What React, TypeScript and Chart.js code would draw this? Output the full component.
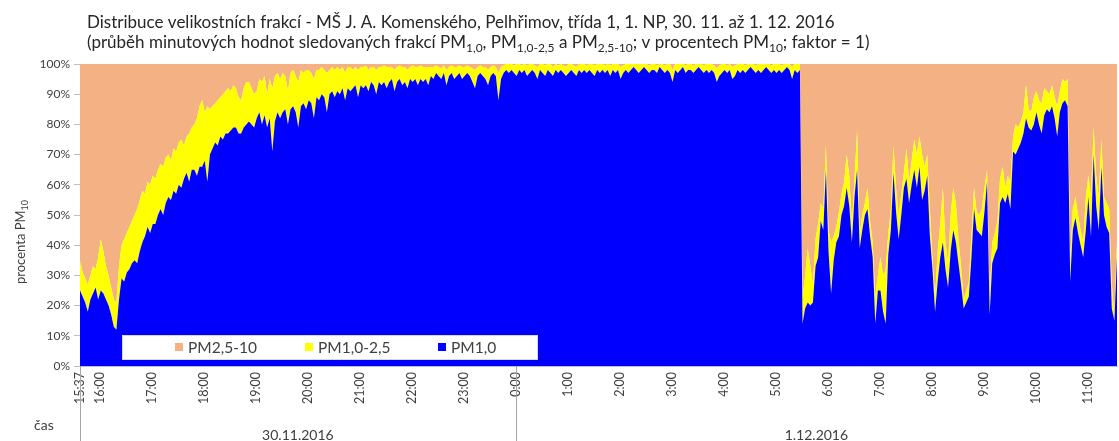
import { useEffect, useRef } from "react";
import { Chart, registerables } from "chart.js";

Chart.register(...registerables);

// Minute samples (every 3 minutes) starting at 15:37 on 30.11.2016
const startLabel = "15:37";
const stepMinutes = 3;

// Tick labels on the time axis
const timeLabels = [
  "15:37", "16:00", "17:00", "18:00", "19:00", "20:00", "21:00", "22:00", "23:00",
  "0:00", "1:00", "2:00", "3:00", "4:00", "5:00", "6:00", "7:00", "8:00", "9:00", "10:00", "11:00",
];
const dayLabels = ["30.11.2016", "1.12.2016"];
const yTicks = [0, 10, 20, 30, 40, 50, 60, 70, 80, 90, 100];

// PM1,0 as a percentage of PM10
const pm1Share = [
  25, 23, 21, 18, 22, 24, 26, 22, 25, 24, 22, 20, 17, 13, 12, 22, 29, 28, 31, 32,
  34, 35, 34, 38, 41, 43, 46, 44, 47, 47, 50, 52, 50, 54, 56, 55, 58, 57, 60, 59,
  62, 64, 61, 65, 65, 63, 66, 66, 68, 61, 70, 72, 74, 73, 76, 75, 77, 77, 78, 79,
  79, 77, 77, 79, 80, 81, 80,
  79, 82, 84, 80, 83, 79, 82, 71, 81, 84, 82, 84, 85, 80, 85, 86, 84, 79, 86, 87,
  85, 88, 87, 82, 89, 88, 90, 89, 84, 90, 91, 89, 91, 90, 92, 88, 92, 91, 92, 93,
  89, 93, 92, 93, 91, 94, 93, 90, 94, 93, 94, 92, 94, 95, 91, 94, 95, 93, 94, 92,
  95, 94, 95, 93, 95, 94, 95, 93,
  96, 95, 97, 96, 95, 97, 93, 96, 97, 95, 96, 97, 95, 96, 97, 96, 94, 92, 96, 97,
  96, 95, 93, 96, 97, 96, 88, 95, 97, 98, 97, 98, 97, 96, 98, 97, 98, 96, 97, 98,
  97, 95, 98, 97, 96, 98, 97, 96, 98, 97, 98, 97, 96, 97, 98, 97, 96, 98, 97, 98,
  97, 98, 97, 96, 98, 97, 98, 97, 98, 96, 98, 97, 98, 95, 97, 98, 97, 98, 99, 98,
  97, 98, 99, 98, 97, 98, 98, 97, 99, 98, 97, 98, 97, 94, 98, 97, 98, 99, 97, 98,
  98, 97, 98, 99, 98, 97, 98, 97, 98, 97, 94, 96, 97, 98, 97, 98, 95, 96, 98, 97,
  98, 97, 98, 99, 98, 97, 98, 97, 98, 99, 98, 97, 98, 97, 98, 97, 98, 99, 98, 95,
  98, 97, 98,
  14, 19, 21, 20, 21, 33, 36, 48, 45, 65, 38, 24, 35, 41, 43, 50, 53, 59, 53, 41,
  56, 65, 39, 45, 50, 52, 43, 36, 14, 25, 25, 18, 14, 37, 45, 64, 51, 42, 50, 59,
  62, 54, 60, 65, 59, 66, 55, 58, 63, 43, 32, 18, 28, 36, 41, 32, 26, 38, 45, 41,
  34, 27, 19, 21, 23, 36, 52, 45, 44, 43, 51, 61, 17, 34, 37, 39, 54, 56, 54, 57,
  52, 71, 70, 72, 74, 77, 82, 79, 78, 80, 84, 80, 77, 83, 85, 84, 86, 82, 76, 84,
  87, 88, 86, 28, 45, 49, 44, 40, 36, 45, 56, 43, 70, 53, 45, 66, 50, 46, 44, 19,
  15, 36,
];

// PM2,5 (PM1,0 + PM1,0-2,5) as a percentage of PM10
const pm25Share = [
  35, 31, 29, 27, 30, 33, 32, 36, 42, 38, 33, 30, 26, 22, 21, 33, 40, 42, 44, 46,
  48, 50, 52, 55, 58, 57, 61, 60, 63, 62, 65, 67, 66, 69, 70, 68, 72, 71, 74, 75,
  73, 76, 77, 79, 80, 82, 86, 88, 84, 86, 85, 86, 87, 88, 89, 90, 91, 92, 91, 93,
  92, 89, 88, 92, 94, 94, 92,
  90, 91, 95, 94, 96, 90, 95, 92, 96, 97, 95, 97, 96, 91, 97, 98, 96, 94, 98, 97,
  98, 98, 97, 95, 98, 98, 99, 98, 97, 98, 99, 98, 99, 98, 99, 97, 99, 99, 98, 99,
  98, 99, 99, 99.5, 98, 99, 99, 98, 99, 99, 99.5, 99, 99, 99, 98, 99, 99.5, 99, 99, 98,
  99, 99.5, 99, 99, 99.5, 99, 99, 99,
  99, 99, 99.5, 99, 98.5, 99.5, 98, 99, 99.5, 99, 99, 99.5, 99, 99, 99.5, 99, 98.5, 98, 99, 99.5,
  99, 99, 98, 99, 99.5, 99, 97, 99, 99.5, 100, 100, 100, 99.5, 100, 100, 99.5, 100, 99.5, 100, 100,
  99.5, 99, 100, 100, 99.5, 100, 100, 99, 100, 99.5, 100, 99.5, 99, 100, 100, 99.5, 99, 100, 100, 100,
  99.5, 100, 100, 99.5, 100, 100, 100, 99.5, 100, 99.5, 100, 100, 100, 99, 99.5, 100, 100, 100, 100, 100,
  100, 100, 100, 100, 99.5, 100, 100, 99.5, 100, 100, 99.5, 100, 100, 98, 100, 100, 100, 100, 99.5, 100,
  100, 99.5, 100, 100, 100, 99.5, 100, 100, 100, 99.5, 98.5, 99.5, 100, 100, 99.5, 100, 99, 99.5, 100, 100,
  100, 99.5, 100, 100, 100, 99.5, 100, 100, 100, 100, 100, 99.5, 100, 100, 100, 99.5, 100, 100, 100, 99,
  100, 100, 100,
  23, 30, 39, 33, 27, 42, 47, 54, 52, 73, 45, 41, 43, 46, 51, 57, 61, 70, 63, 47,
  62, 78, 44, 50, 54, 59, 48, 41, 23, 30, 36, 30, 32, 44, 52, 73, 59, 50, 57, 64,
  72, 61, 68, 75, 70, 76, 70, 66, 70, 52, 36, 23, 38, 47, 59, 41, 34, 50, 59, 54,
  42, 33, 22, 25, 28, 43, 59, 51, 50, 52, 59, 65, 23, 41, 44, 48, 62, 66, 59, 63,
  61, 76, 80, 79, 81, 84, 93, 85, 84, 89, 91, 88, 87, 92, 91, 90, 93, 89, 86, 91,
  95, 94, 95, 36, 52, 56, 50, 45, 41, 56, 63, 56, 79, 63, 56, 75, 56, 54, 52, 27,
  17, 41,
];

const BLUE = "#0000FF";
const YELLOW = "#FFFF00";
const ORANGE = "#F4B183";
const TEXT = "#404040";
const AXIS = "#BFBFBF";
const FONT = "Lato, 'Open Sans', sans-serif";

type Run = { text: string; sub?: boolean };

const titleLine1: Run[] = [
  { text: "Distribuce velikostních frakcí - MŠ J. A. Komenského, Pelhřimov, třída 1, 1. NP, 30. 11. až 1. 12. 2016" },
];
const titleLine2: Run[] = [
  { text: "(průběh minutových hodnot sledovaných frakcí PM" },
  { text: "1,0", sub: true },
  { text: ", PM" },
  { text: "1,0-2,5", sub: true },
  { text: " a PM" },
  { text: "2,5-10", sub: true },
  { text: "; v procentech PM" },
  { text: "10", sub: true },
  { text: "; faktor = 1)" },
];
const yTitle: Run[] = [{ text: "procenta PM" }, { text: "10", sub: true }];

const legendItems = [
  { label: "PM2,5-10", color: ORANGE },
  { label: "PM1,0-2,5", color: YELLOW },
  { label: "PM1,0", color: BLUE },
];

function toMinutes(label: string): number {
  const [h, m] = label.split(":").map(Number);
  const [h0, m0] = startLabel.split(":").map(Number);
  let d = h * 60 + m - (h0 * 60 + m0);
  if (d < 0) d += 1440;
  return d;
}

function runsWidth(ctx: CanvasRenderingContext2D, runs: Run[], size: number): number {
  let w = 0;
  for (const r of runs) {
    ctx.font = `${r.sub ? Math.round(size * 0.68) : size}px ${FONT}`;
    w += ctx.measureText(r.text).width;
  }
  return w;
}

function drawRuns(ctx: CanvasRenderingContext2D, runs: Run[], x: number, y: number, size: number) {
  let cx = x;
  ctx.textAlign = "left";
  ctx.textBaseline = "alphabetic";
  for (const r of runs) {
    const s = r.sub ? Math.round(size * 0.68) : size;
    ctx.font = `${s}px ${FONT}`;
    ctx.fillText(r.text, cx, r.sub ? y + size * 0.24 : y);
    cx += ctx.measureText(r.text).width;
  }
}

const decorations = {
  id: "decorations",
  afterDraw(chart: Chart) {
    const { ctx, chartArea, scales } = chart;
    const x = scales.x;
    ctx.save();
    ctx.fillStyle = "#262626";
    drawRuns(ctx, titleLine1, 87, 28, 17);
    drawRuns(ctx, titleLine2, 87, 48, 17);

    // vertical axis title
    ctx.fillStyle = TEXT;
    ctx.save();
    ctx.translate(25, 242);
    ctx.rotate(-Math.PI / 2);
    const yw = runsWidth(ctx, yTitle, 13);
    drawRuns(ctx, yTitle, -yw / 2, 0, 13);
    ctx.restore();

    // legend box inside the plot
    const lx = 122, ly = 335, lw = 416, lh = 25;
    ctx.fillStyle = "#FFFFFF";
    ctx.fillRect(lx, ly, lw, lh);
    ctx.strokeStyle = "#D9D9D9";
    ctx.lineWidth = 1;
    ctx.strokeRect(lx + 0.5, ly + 0.5, lw - 1, lh - 1);
    const itemX = [175, 305, 438];
    ctx.font = `15.5px ${FONT}`;
    ctx.textBaseline = "middle";
    ctx.textAlign = "left";
    legendItems.forEach((it, i) => {
      ctx.fillStyle = it.color;
      ctx.fillRect(itemX[i], ly + 8, 8, 8);
      ctx.fillStyle = TEXT;
      ctx.fillText(it.label, itemX[i] + 13, ly + 13);
    });

    // category group row under the time labels
    const bottom = chart.height;
    const midX = x.getPixelForValue(toMinutes("0:00"));
    ctx.strokeStyle = "#A6A6A6";
    ctx.lineWidth = 1;
    [chartArea.left, midX].forEach((px) => {
      const p = Math.round(px) + 0.5;
      ctx.beginPath();
      ctx.moveTo(p, chartArea.bottom);
      ctx.lineTo(p, bottom);
      ctx.stroke();
    });
    ctx.fillStyle = TEXT;
    ctx.font = `14px ${FONT}`;
    ctx.textAlign = "left";
    ctx.textBaseline = "alphabetic";
    ctx.fillText("čas", 34, 430);
    ctx.textAlign = "center";
    ctx.fillText(dayLabels[0], (chartArea.left + midX) / 2, 440);
    ctx.fillText(dayLabels[1], (midX + chartArea.right) / 2, 440);
    ctx.restore();
  },
};

export default function App() {
  const ref = useRef<HTMLCanvasElement>(null);

  useEffect(() => {
    document.body.style.margin = "0";
    const canvas = ref.current;
    if (!canvas) return;
    const pts = (arr: number[]) => arr.map((y, i) => ({ x: i * stepMinutes, y }));
    const fine = pm1Share;
    const middle = pm25Share.map((v, i) => v - pm1Share[i]);
    const coarse = pm25Share.map((v) => 100 - v);
    const tickValues = timeLabels.map(toMinutes);
    const labelAt = new Map(tickValues.map((v, i) => [v, timeLabels[i]]));
    const lastX = (pm1Share.length - 1) * stepMinutes;

    const common = { pointRadius: 0, borderWidth: 0, tension: 0 };
    const chart = new Chart(canvas, {
      type: "line",
      data: {
        datasets: [
          { label: "PM1,0", data: pts(fine), backgroundColor: BLUE, borderColor: BLUE, fill: "origin", ...common },
          { label: "PM1,0-2,5", data: pts(middle), backgroundColor: YELLOW, borderColor: YELLOW, fill: "-1", ...common },
          { label: "PM2,5-10", data: pts(coarse), backgroundColor: ORANGE, borderColor: ORANGE, fill: "-1", ...common },
        ],
      },
      options: {
        animation: false,
        responsive: true,
        maintainAspectRatio: false,
        layout: { padding: { top: 64, right: 2, left: 0, bottom: 0 } },
        plugins: { legend: { display: false }, title: { display: false }, tooltip: { enabled: false } },
        scales: {
          x: {
            type: "linear",
            min: 0,
            max: lastX,
            z: 1,
            grid: { display: false, drawTicks: false },
            border: { display: true, color: AXIS },
            afterBuildTicks: (scale: any) => {
              scale.ticks = tickValues.map((v) => ({ value: v }));
            },
            afterFit: (scale: any) => {
              scale.height = 75;
            },
            ticks: {
              autoSkip: false,
              maxRotation: 90,
              minRotation: 90,
              padding: 6,
              color: TEXT,
              font: { family: FONT, size: 12.5 },
              callback: (v: any) => labelAt.get(Number(v)) ?? "",
            },
          },
          y: {
            stacked: true,
            min: 0,
            max: 100,
            z: 1,
            afterBuildTicks: (scale: any) => {
              scale.ticks = yTicks.map((v) => ({ value: v }));
            },
            afterFit: (scale: any) => {
              scale.width = 80;
            },
            grid: { color: "rgba(120,120,120,0.13)", tickColor: AXIS, tickLength: 6 },
            border: { display: true, color: AXIS },
            ticks: {
              padding: 4,
              color: TEXT,
              font: { family: FONT, size: 12 },
              callback: (v: any) => `${v}%`,
            },
          },
        },
      },
      plugins: [decorations],
    });
    return () => chart.destroy();
  }, []);

  return (
    <div style={{ position: "relative", width: 1119, height: 441 }}>
      <canvas ref={ref} />
    </div>
  );
}
